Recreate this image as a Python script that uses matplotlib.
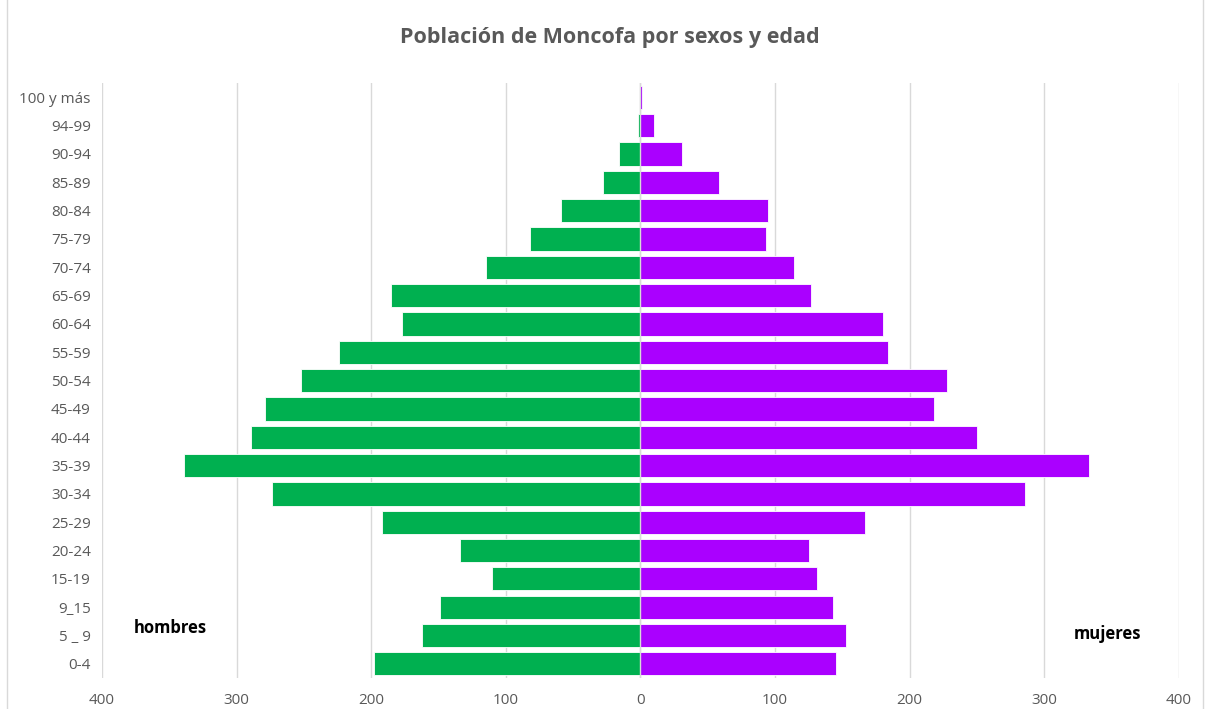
import numpy as np
import matplotlib.pyplot as plt
from matplotlib.patches import Rectangle

# age groups from bottom to top
grupos = ['0-4', '5 _ 9', '9_15', '15-19', '20-24', '25-29', '30-34', '35-39',
          '40-44', '45-49', '50-54', '55-59', '60-64', '65-69', '70-74',
          '75-79', '80-84', '85-89', '90-94', '94-99', '100 y más']
hombres = [198, 162, 149, 110, 134, 192, 274, 339, 289, 279, 252, 224,
           177, 185, 115, 82, 59, 28, 16, 2, 0]
mujeres = [145, 153, 143, 131, 125, 167, 286, 333, 250, 218, 228, 184,
           180, 127, 114, 93, 95, 58, 31, 10, 1]
ticks = [-400, -300, -200, -100, 0, 100, 200, 300, 400]

verde = '#00B050'
morado = '#AA00FF'
gris = '#595959'

fig = plt.figure(figsize=(12.05, 7.09), dpi=100)
ax = fig.add_axes([0.0846, 0.0437, 0.8938, 0.839])

y = np.arange(len(grupos))
ax.barh(y, [-h for h in hombres], height=0.82, color=verde, edgecolor='white', linewidth=0.6, zorder=3)
ax.barh(y, mujeres, height=0.82, color=morado, edgecolor='white', linewidth=0.6, zorder=3)

ax.set_xlim(-400, 400)
ax.set_ylim(-0.5, len(grupos) - 0.5)
ax.set_xticks(ticks)
ax.set_xticklabels([str(abs(t)) for t in ticks], color=gris, fontsize=11, family='Open Sans')
ax.set_yticks(y)
ax.set_yticklabels(grupos, color=gris, fontsize=11, family='Open Sans')
ax.tick_params(length=0)
ax.tick_params(axis='x', pad=11)
ax.tick_params(axis='y', pad=8)
ax.grid(axis='x', color='#D9D9D9', linewidth=1, zorder=0)
ax.axvline(0, color='#D9D9D9', linewidth=1, zorder=4)
for s in ax.spines.values():
    s.set_visible(False)

ax.text(-349, 1.25, 'hombres', fontsize=12, fontweight='bold', family='Open Sans', ha='center', va='center')
ax.text(347, 1.05, 'mujeres', fontsize=12, fontweight='bold', family='Open Sans', ha='center', va='center')

fig.text(0.506, 0.947, 'Población de Moncofa por sexos y edad', fontsize=15.5, fontweight='bold',
         color=gris, family='Open Sans', ha='center', va='center')

fig.patches.append(Rectangle((0.006, -0.01), 0.992, 1.02, transform=fig.transFigure,
                             fill=False, edgecolor='#D9D9D9', linewidth=1))

fig.savefig('out.png', dpi=100)
